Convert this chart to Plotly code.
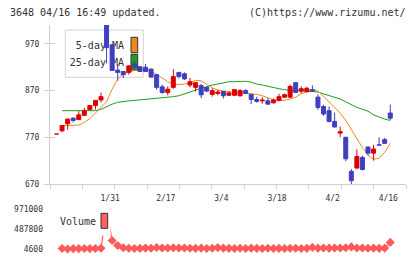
import numpy as np
import plotly.graph_objects as go

# ---------------- data ----------------
open_ = [777, 784, 799, 811, 808, 817, 829, 838, 850, 1015,
         968, 914, 911, 909, 927, 921, 920, 916, 904, 878,
         866, 877, 909, 906, 882, 877, 881, 877, 862, 864,
         868, 860, 860, 859, 870, 862, 851, 848, 848, 844,
         849, 856, 856, 887, 869, 868, 872, 856, 836, 827,
         804, 779, 770, 697, 704, 727, 749, 736, 754, 765, 822]
high = [777, 795, 810, 813, 826, 833, 838, 849, 866, 1015,
        970, 927, 912, 924, 934, 922, 927, 917, 905, 883,
        879, 916, 910, 909, 897, 888, 884, 879, 875, 872,
        869, 868, 873, 873, 873, 862, 857, 856, 854, 853,
        863, 864, 883, 887, 879, 878, 881, 862, 840, 836,
        823, 793, 771, 702, 744, 731, 751, 754, 770, 769, 840]
low = [777, 781, 786, 802, 808, 817, 829, 829, 845, 928,
       913, 891, 897, 904, 918, 910, 911, 898, 872, 863,
       860, 874, 896, 893, 877, 868, 854, 867, 857, 860,
       853, 859, 859, 857, 864, 841, 844, 842, 840, 842,
       847, 854, 854, 866, 864, 865, 868, 829, 816, 802,
       791, 770, 719, 668, 704, 699, 731, 720, 753, 756, 807]
close = [777, 795, 809, 806, 818, 827, 838, 849, 857, 962,
         913, 909, 904, 923, 920, 911, 911, 899, 877, 866,
         873, 900, 900, 895, 889, 887, 861, 869, 870, 867,
         859, 865, 872, 870, 864, 851, 847, 850, 841, 850,
         857, 861, 879, 866, 874, 875, 869, 834, 820, 804,
         792, 782, 724, 677, 729, 701, 736, 745, 753, 757, 811]

# moving averages and volume start at the second candle
ma5 = [795, 795, 795, 796, 802, 810, 822, 834, 846, 873,
       895, 906, 910, 913, 914, 915, 912, 905, 897, 889,
       884, 883, 884, 887, 892, 891, 884, 876, 871, 869,
       867, 866, 865, 865, 863, 862, 859, 854, 850, 849,
       849, 852, 856, 863, 868, 871, 869, 858, 846, 834,
       822, 806, 787, 765, 748, 732, 723, 725, 738, 757]
ma25 = [827, 827, 827, 827, 827, 827, 827, 830, 836, 841,
        845, 847, 848, 849, 850, 851, 852, 853, 854, 855,
        857, 859, 863, 868, 872, 875, 878, 882, 884, 886,
        889, 889, 889, 890, 888, 884, 882, 879, 876, 874,
        872, 870, 870, 870, 869, 868, 867, 863, 859, 856,
        852, 846, 840, 834, 830, 826, 818, 813, 809, 806]
volume = [15000, 4600, 14000, 13000, 16000, 14000, 15000, 22000, 971000, 210000,
          88000, 35000, 22000, 18000, 20000, 26000, 22000, 40000, 30000, 28000,
          35000, 30000, 28000, 22000, 20000, 25000, 18000, 22000, 38000, 25000,
          20000, 16000, 22000, 18000, 25000, 20000, 18000, 22000, 16000, 20000,
          18000, 24000, 22000, 18000, 20000, 45000, 26000, 30000, 25000, 28000,
          30000, 35000, 55000, 30000, 28000, 22000, 25000, 20000, 26000, 164000]

date_labels = ["1/31", "2/17", "3/4", "3/18", "4/2", "4/16"]
date_label_index = [10, 20, 30, 40, 50, 60]
price_ticks = [670, 770, 870, 970]
volume_ticks = [4600, 487800, 971000]

# ---------------- styling ----------------
RED = "#dd0000"
BLUE = "#3f3fbf"
ORANGE = "#f0881a"
GREEN = "#1aa01a"
VOLC = "#ff5a5a"
AXC = "#d0d0d0"
TXT = "#333333"
FONT = "DejaVu Sans Mono"

W, H = 420, 259
ML, MR, MT, MB = 50, 14, 25, 10
PW, PH = W - ML - MR, H - MT - MB
XR = [-1.17, 62.83]
YR = [670, 1010.5]
LABEL_SHIFT = 0.36  # date labels sit ~2px left of their candles


def px2paper_x(px):
    return (px - ML) / PW


def px2paper_y(py):
    return (H - MB - py) / PH


def px2data_x(px):
    return XR[0] + (px2paper_x(px)) * (XR[1] - XR[0])


main_dom = [px2paper_y(184), 1.0]
vol_dom = [0.0, px2paper_y(209)]

n = len(close)
idx = list(range(n))
sub_idx = idx[1:]


def py2price(py):
    f = (px2paper_y(py) - main_dom[0]) / (main_dom[1] - main_dom[0])
    return YR[0] + f * (YR[1] - YR[0])


fig = go.Figure()

# legend text (drawn beneath candles)
fig.add_trace(go.Scatter(
    x=[px2data_x(124), px2data_x(124)], y=[py2price(46), py2price(63.5)],
    text=["5-day MA", "25-day MA"], mode="text", textposition="middle left",
    textfont=dict(family=FONT, size=10, color=TXT), hoverinfo="skip",
    showlegend=False, xaxis="x", yaxis="y", cliponaxis=False))

# moving averages
fig.add_trace(go.Scatter(x=sub_idx, y=ma25, mode="lines", line=dict(color=GREEN, width=1),
                         showlegend=False, xaxis="x", yaxis="y"))
fig.add_trace(go.Scatter(x=sub_idx, y=ma5, mode="lines", line=dict(color=ORANGE, width=1),
                         showlegend=False, xaxis="x", yaxis="y"))

# candles on an overlay axis so they sit above the lines and legend text
for is_up, col in ((True, RED), (False, BLUE)):
    sel = [i for i in idx if (close[i] >= open_[i]) == is_up]
    wx, wy = [], []
    for i in sel:
        wx += [i, i, None]
        wy += [low[i], high[i], None]
    fig.add_trace(go.Bar(
        x=sel, y=[close[i] - open_[i] for i in sel], base=[open_[i] for i in sel],
        width=0.72, marker=dict(color=col, line=dict(color=col, width=1)),
        showlegend=False, xaxis="x", yaxis="y4", hoverinfo="skip"))
    fig.add_trace(go.Scatter(x=wx, y=wy, mode="lines", line=dict(color=col, width=1),
                             showlegend=False, xaxis="x", yaxis="y4", hoverinfo="skip"))

# date labels axis (dummy trace)
fig.add_trace(go.Scatter(x=[None], y=[None], xaxis="x3", yaxis="y", showlegend=False))

# volume
fig.add_trace(go.Scatter(
    x=sub_idx, y=volume, mode="lines+markers",
    line=dict(color=VOLC, width=1.2),
    marker=dict(symbol="diamond", size=7, color=VOLC),
    showlegend=False, xaxis="x2", yaxis="y2", cliponaxis=False))

fig.update_layout(
    width=W, height=H, autosize=False,
    margin=dict(l=ML, r=MR, t=MT, b=MB, pad=0, autoexpand=False),
    paper_bgcolor="white", plot_bgcolor="white",
    font=dict(family=FONT, size=8, color=TXT),
    barmode="overlay",
    xaxis=dict(domain=[0, 1], range=XR, anchor="y", automargin=False,
               tickmode="array", tickvals=list(np.linspace(XR[0], XR[1], 12)),
               showticklabels=False, ticks="outside", ticklen=4, tickcolor=AXC,
               showline=True, linecolor=AXC, linewidth=1,
               showgrid=False, zeroline=False),
    xaxis3=dict(range=[XR[0] + LABEL_SHIFT, XR[1] + LABEL_SHIFT], overlaying="x",
                anchor="y", automargin=False,
                tickmode="array", tickvals=date_label_index, ticktext=date_labels,
                ticks="", showline=False, showgrid=False, zeroline=False,
                ticklabelstandoff=8, tickfont=dict(family=FONT, size=8, color=TXT)),
    yaxis=dict(domain=main_dom, range=YR, anchor="x", automargin=False,
               tickmode="array", tickvals=price_ticks,
               ticks="outside", ticklen=5, tickcolor=AXC,
               showline=True, linecolor=AXC, linewidth=1,
               showgrid=False, zeroline=False, ticklabelstandoff=3,
               tickfont=dict(family=FONT, size=8, color=TXT)),
    yaxis4=dict(range=YR, overlaying="y", anchor="x", automargin=False,
                tickmode="array", tickvals=price_ticks,
                ticks="inside", ticklen=5, tickcolor=AXC,
                showticklabels=False, showline=False, showgrid=False, zeroline=False),
    xaxis2=dict(domain=[0, 1], range=XR, anchor="y2", visible=False, automargin=False),
    yaxis2=dict(domain=vol_dom, range=[volume_ticks[0], volume_ticks[-1]], anchor="x2",
                automargin=False,
                tickmode="array", tickvals=volume_ticks,
                ticktext=[str(v) for v in volume_ticks],
                ticks="", showline=False, showgrid=False, zeroline=False,
                ticklabelstandoff=6, tickfont=dict(family=FONT, size=8, color=TXT)),
)

shapes = [
    # main legend box and swatches (below data)
    dict(type="rect", xref="paper", yref="paper", layer="below",
         x0=px2paper_x(65.3), x1=px2paper_x(143.3), y0=px2paper_y(77.3), y1=px2paper_y(30),
         line=dict(color="#d4d4d4", width=1), fillcolor="white"),
    dict(type="rect", xref="paper", yref="paper", layer="below",
         x0=px2paper_x(131), x1=px2paper_x(137.7), y0=px2paper_y(52.7), y1=px2paper_y(37.3),
         line=dict(color="#333333", width=1), fillcolor=ORANGE),
    dict(type="rect", xref="paper", yref="paper", layer="below",
         x0=px2paper_x(131), x1=px2paper_x(137.7), y0=px2paper_y(70), y1=px2paper_y(54.3),
         line=dict(color="#333333", width=1), fillcolor=GREEN),
    # volume legend background and swatch (above data)
    dict(type="rect", xref="paper", yref="paper", layer="above",
         x0=px2paper_x(55), x1=px2paper_x(110.5), y0=px2paper_y(235.5), y1=px2paper_y(205),
         line=dict(width=0), fillcolor="white"),
    dict(type="rect", xref="paper", yref="paper", layer="above",
         x0=px2paper_x(101), x1=px2paper_x(107.7), y0=px2paper_y(228.3), y1=px2paper_y(213.3),
         line=dict(color="#333333", width=1), fillcolor="#ff6060"),
]
fig.update_layout(shapes=shapes)

fig.update_layout(annotations=[
    dict(text="3648 04/16 16:49 updated.", xref="paper", yref="paper",
         x=px2paper_x(8), y=px2paper_y(13), xanchor="left", yanchor="middle",
         showarrow=False, font=dict(family=FONT, size=10, color=TXT)),
    dict(text="(C)https://www.rizumu.net/", xref="paper", yref="paper",
         x=px2paper_x(408), y=px2paper_y(13), xanchor="right", yanchor="middle",
         showarrow=False, font=dict(family=FONT, size=10, color=TXT)),
    dict(text="Volume", xref="paper", yref="paper",
         x=px2paper_x(58), y=px2paper_y(221.5), xanchor="left", yanchor="middle",
         showarrow=False, font=dict(family=FONT, size=10, color=TXT)),
])

fig.write_html("out.html", config={"displayModeBar": False, "responsive": False},
               post_script="document.body.style.margin='0';document.body.style.overflow='hidden';")
